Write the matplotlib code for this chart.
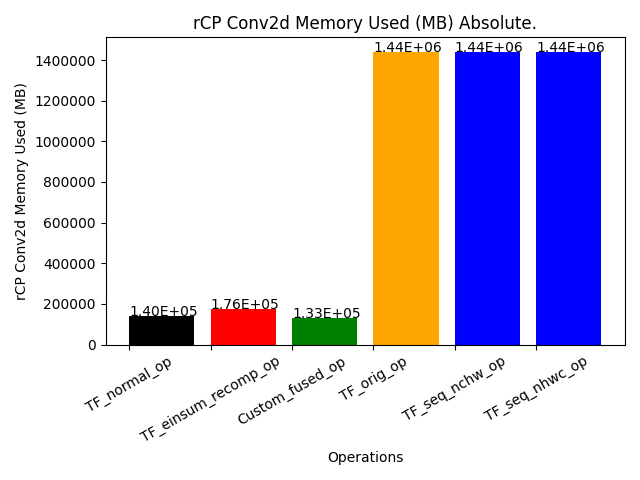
import matplotlib
matplotlib.use('Agg')
import matplotlib.pyplot as plt

ops = ['TF_normal_op', 'TF_einsum_recomp_op', 'Custom_fused_op',
       'TF_orig_op', 'TF_seq_nchw_op', 'TF_seq_nhwc_op']
mem = [1.40e5, 1.76e5, 1.33e5, 1.44e6, 1.44e6, 1.44e6]
colors = ['black', 'red', 'green', 'orange', 'blue', 'blue']

fig, ax = plt.subplots(figsize=(6.4, 4.8), dpi=100)
x = range(len(ops))
ax.bar(x, mem, color=colors, align='edge')
for i, v in enumerate(mem):
    ax.text(i, v, '%.2E' % v, ha='left', va='baseline')

ax.set_xticks(list(x))
ax.set_xticklabels(ops, rotation=30)
ax.ticklabel_format(axis='y', style='plain')
ax.set_xlabel('Operations')
ax.set_ylabel('rCP Conv2d Memory Used (MB)')
ax.set_title('rCP Conv2d Memory Used (MB) Absolute.')
fig.tight_layout()
fig.savefig('out.png')
